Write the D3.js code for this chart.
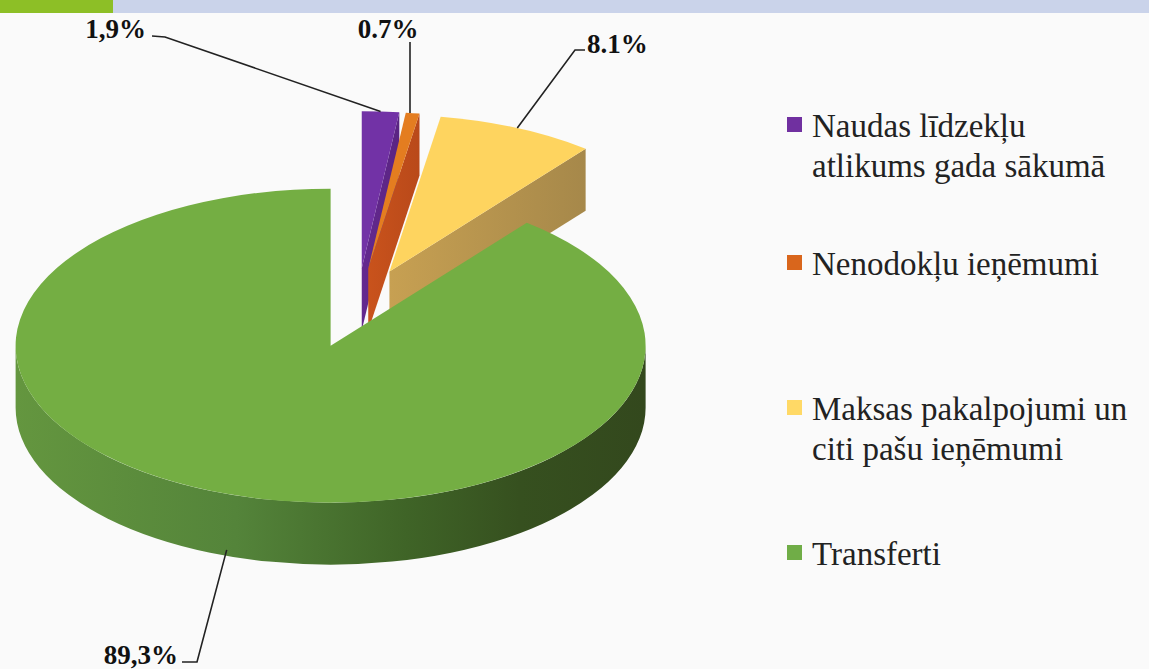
<!DOCTYPE html>
<html>
<head>
<meta charset="utf-8">
<script src="https://cdn.jsdelivr.net/npm/d3@7"></script>
<style>
	html, body { margin: 0; padding: 0; background: #fafafa; }
	svg { display: block; }
</style>
</head>
<body>
<svg width="1149" height="669"></svg>
<script>
'use strict'

// Data
const categories = ['Naudas līdzekļu atlikums gada sākumā', 'Nenodokļu ieņēmumi', 'Maksas pakalpojumi un citi pašu ieņēmumi', 'Transferti']
const legendLines = [['Naudas līdzekļu', 'atlikums gada sākumā'], ['Nenodokļu ieņēmumi'], ['Maksas pakalpojumi un', 'citi pašu ieņēmumi'], ['Transferti']]
const values = [1.9, 0.7, 8.1, 89.3]
const valueLabels = ['1,9%', '0.7%', '8.1%', '89,3%']

// Style
const SERIF = "'Liberation Serif', 'Times New Roman', 'DejaVu Serif', serif"
const topColors = ['#7232a6', '#e47d20', '#fed45f', '#74ae43']
const sideColors = [['#64298f', '#5a2483'], ['#c9531c', '#b9491a'], ['#c7a052', '#a6884a']]
const legendColors = ['#7030a0', '#d9661c', '#ffd966', '#70ad47']

const svg = d3.select('svg')

// Slide header bar
svg.append('rect').attr('x', 0).attr('y', 0).attr('width', 1149).attr('height', 13).attr('fill', '#cad3ea')
svg.append('rect').attr('x', 0).attr('y', 0).attr('width', 113).attr('height', 13).attr('fill', '#8dbf26')

// Pie geometry (projected ellipse)
const G = { cx: 357, cy: 308, rx: 315, ry: 157, depth: 62, explode: 80 }
const k = G.ry / G.rx

const pie = d3.pie().sort(null).startAngle(0).endAngle(2 * Math.PI)
const arcs = pie(values).map((d, i) => {
	const mid = (d.startAngle + d.endAngle) / 2
	d.i = i
	d.mid = mid
	d.ox = G.cx + G.explode * Math.sin(mid)
	d.oy = G.cy - G.explode * k * Math.cos(mid)
	return d
})

const pt = (d, a, down) => [d.ox + G.rx * Math.sin(a), d.oy - G.ry * Math.cos(a) + (down ? G.depth : 0)]

function topPath(d) {
	const p0 = pt(d, d.startAngle), p1 = pt(d, d.endAngle)
	const large = d.endAngle - d.startAngle > Math.PI ? 1 : 0
	return `M${d.ox},${d.oy}L${p0}A${G.rx},${G.ry} 0 ${large} 1 ${p1}Z`
}

function facePath(d, a) {
	const t = pt(d, a), b = pt(d, a, true)
	return `M${d.ox},${d.oy}L${t}L${b}L${d.ox},${d.oy + G.depth}Z`
}

function outerPath(d) {
	const a0 = Math.max(d.startAngle, Math.PI / 2)
	const a1 = Math.min(d.endAngle, 3 * Math.PI / 2)
	if (a1 <= a0) return null
	const t0 = pt(d, a0), t1 = pt(d, a1), b0 = pt(d, a0, true), b1 = pt(d, a1, true)
	return `M${t0}A${G.rx},${G.ry} 0 0 1 ${t1}L${b1}A${G.rx},${G.ry} 0 0 0 ${b0}Z`
}

// Side gradients
const defs = svg.append('defs')
arcs.forEach((d, i) => {
	const g = defs.append('linearGradient').attr('id', `side${i}`)
		.attr('gradientUnits', 'userSpaceOnUse')
		.attr('x1', d.ox - G.rx).attr('x2', d.ox + G.rx).attr('y1', 0).attr('y2', 0)
	if (i === 3) {
		g.append('stop').attr('offset', 0).attr('stop-color', '#64963f')
		g.append('stop').attr('offset', 0.35).attr('stop-color', '#54843a')
		g.append('stop').attr('offset', 0.62).attr('stop-color', '#3f6427')
		g.append('stop').attr('offset', 0.8).attr('stop-color', '#36501f')
		g.append('stop').attr('offset', 1).attr('stop-color', '#33481d')
	} else {
		const f1 = Math.min(1, (pt(d, d.endAngle)[0] - (d.ox - G.rx)) / (2 * G.rx))
		g.append('stop').attr('offset', 0.5).attr('stop-color', sideColors[i][0])
		g.append('stop').attr('offset', f1).attr('stop-color', sideColors[i][1])
	}
})

// Draw back to front
const order = arcs.slice().sort((a, b) => (-Math.cos(a.mid)) - (-Math.cos(b.mid)))
const pieG = svg.append('g')
order.forEach((d) => {
	const g = pieG.append('g')
	if (Math.sin(d.startAngle) < -1e-6) g.append('path').attr('d', facePath(d, d.startAngle)).attr('fill', `url(#side${d.i})`)
	if (Math.sin(d.endAngle) > 1e-6) g.append('path').attr('d', facePath(d, d.endAngle)).attr('fill', `url(#side${d.i})`)
	const op = outerPath(d)
	if (op) g.append('path').attr('d', op).attr('fill', `url(#side${d.i})`)
	g.append('path').attr('d', topPath(d)).attr('fill', topColors[d.i])
})

// Data labels with leader lines
const labelPos = [
	{ x: 146, y: 38, anchor: 'end', ex: [152, 36], el: [165, 37] },
	{ x: 388, y: 38, anchor: 'middle', ex: [410, 42], el: null },
	{ x: 587, y: 53, anchor: 'start', ex: [585, 50], el: [575, 50] },
	{ x: 178, y: 664, anchor: 'end', ex: [182, 662], el: [197, 662] },
]
arcs.forEach((d, i) => {
	const front = Math.cos(d.mid) < 0
	const a = front ? pt(d, d.mid, true) : pt(d, d.mid)
	if (front) a[1] -= 6
	const L = labelPos[i]
	const pts = [L.ex]
	if (L.el) pts.push(L.el)
	pts.push(i === 1 ? [L.ex[0], a[1]] : a)
	svg.append('path').attr('d', d3.line()(pts)).attr('fill', 'none').attr('stroke', '#222').attr('stroke-width', 1.6)
	svg.append('text')
		.attr('x', L.x).attr('y', L.y).attr('text-anchor', L.anchor)
		.attr('font-family', SERIF).attr('font-weight', 'bold').attr('font-size', 27).attr('fill', '#111')
		.text(valueLabels[i])
})

// Legend
const legendY = [137, 275, 420, 565]
const leg = svg.append('g')
categories.forEach((c, i) => {
	leg.append('rect').attr('x', 787).attr('y', legendY[i] - 20).attr('width', 15).attr('height', 15).attr('fill', legendColors[i])
	const t = leg.append('text')
		.attr('x', 812).attr('y', legendY[i])
		.attr('font-family', SERIF).attr('font-size', 33).attr('fill', '#222')
	legendLines[i].forEach((line, j) => {
		t.append('tspan').attr('x', 812).attr('dy', j === 0 ? 0 : 40).text(line)
	})
})
</script>
</body>
</html>
